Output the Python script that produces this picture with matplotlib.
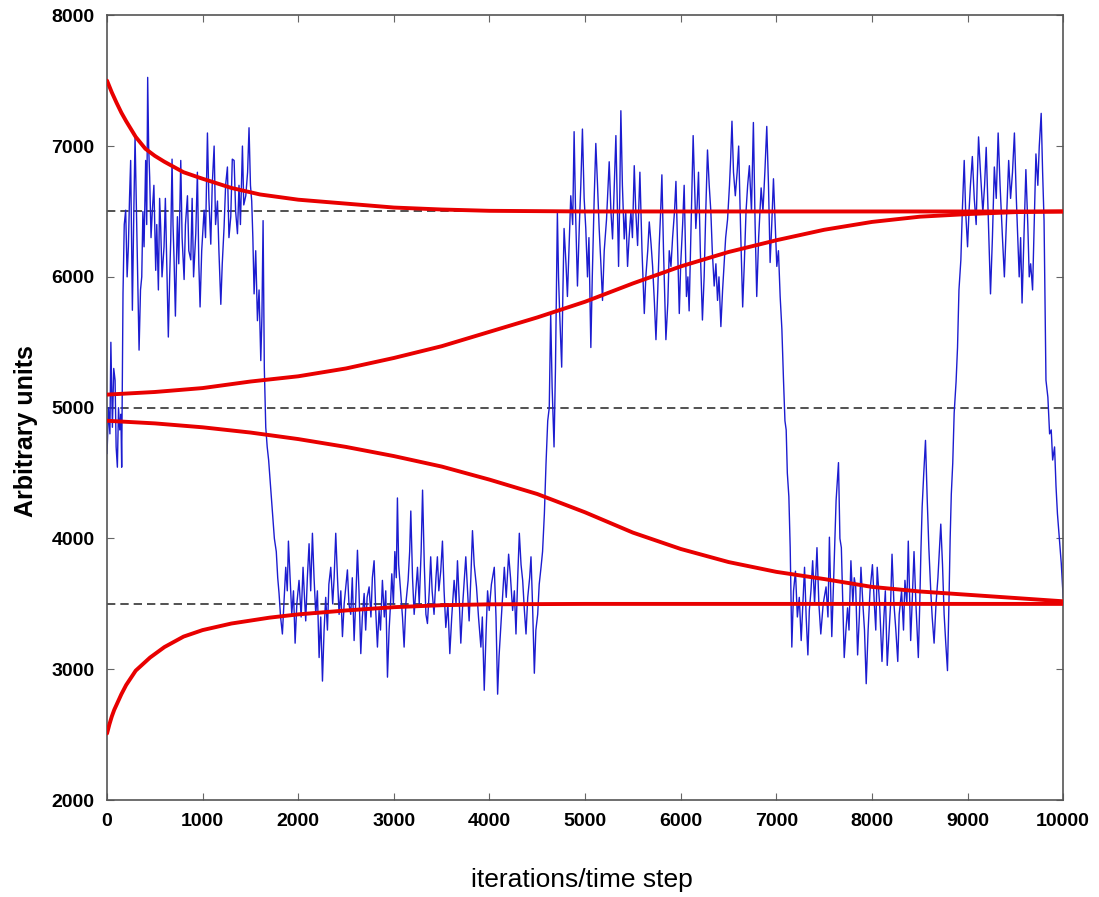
import matplotlib
matplotlib.use("Agg")
import matplotlib.pyplot as plt
import numpy as np

# blue trace as (iteration, value) pairs
trace_start = [(0, 4650), (15, 5000), (30, 4800), (40, 5500), (56, 4850), (70, 5300), (84, 5210),
               (95, 4700), (108, 4545), (120, 5000), (133, 4830), (145, 4950), (153, 4545), (160, 5200),
               (167, 5875)]
trace_high1 = [(180, 6400), (195, 6510), (210, 6000), (223, 6230), (235, 6600), (247, 6890), (265, 5745),
               (280, 6500), (293, 7070), (305, 6600), (317, 6130), (335, 5440), (350, 5900), (363, 6000),
               (375, 6500), (387, 6230), (404, 6890), (415, 6400), (425, 7525), (435, 7000), (446, 6760),
               (460, 6300), (474, 6510), (490, 6700), (509, 6050), (520, 6400), (537, 5900), (550, 6600),
               (561, 6380), (575, 6000), (596, 6230), (610, 6600), (625, 6100), (641, 5540), (655, 6000),
               (666, 6280), (680, 6900), (690, 6400), (701, 6130), (715, 5700), (736, 6460), (750, 6100),
               (771, 6890), (785, 6300), (806, 5980), (820, 6400), (841, 6620), (855, 6200), (876, 6130),
               (890, 6600), (905, 6000), (928, 6330), (945, 6800), (960, 6100), (973, 5770), (990, 6200),
               (1015, 6510), (1030, 6300), (1050, 7100), (1065, 6600), (1085, 6250), (1100, 6700),
               (1120, 7000), (1135, 6400), (1155, 6580), (1170, 6200), (1190, 5790), (1205, 6100),
               (1224, 6380), (1240, 6700), (1259, 6840), (1275, 6300), (1294, 6460), (1310, 6900),
               (1329, 6890), (1345, 6500), (1364, 6330), (1380, 6700), (1395, 6400), (1416, 7000),
               (1430, 6550), (1451, 6620), (1470, 6800), (1485, 7140), (1500, 6700), (1513, 6580),
               (1525, 6300), (1538, 5870), (1555, 6200), (1573, 5665), (1590, 5900), (1608, 5360),
               (1620, 5700), (1632, 6430), (1645, 5300), (1660, 4850)]
trace_drop1 = [(1675, 4700), (1690, 4600), (1710, 4400), (1730, 4200), (1750, 4000), (1770, 3900),
               (1785, 3700), (1799, 3580)]
trace_low1 = [(1815, 3400), (1834, 3270), (1850, 3500), (1869, 3780), (1885, 3600), (1897, 3980),
              (1915, 3700), (1932, 3420), (1950, 3600), (1967, 3200), (1985, 3500), (2008, 3680),
              (2030, 3400), (2050, 3780), (2065, 3550), (2078, 3370), (2095, 3700), (2113, 3960),
              (2130, 3600), (2148, 4040), (2165, 3700), (2183, 3420), (2200, 3600), (2218, 3090),
              (2235, 3400), (2253, 2910), (2270, 3300), (2287, 3550), (2305, 3300), (2320, 3650),
              (2340, 3780), (2360, 3500), (2375, 3700), (2392, 4040), (2410, 3700), (2427, 3420),
              (2445, 3600), (2462, 3250), (2480, 3500), (2500, 3650), (2514, 3760), (2530, 3500),
              (2549, 3420), (2565, 3700), (2584, 3220), (2600, 3500), (2619, 3910), (2635, 3600),
              (2654, 3120), (2670, 3400), (2689, 3580), (2705, 3300), (2720, 3550), (2741, 3630),
              (2760, 3400), (2775, 3700), (2793, 3830), (2810, 3450), (2828, 3170), (2845, 3450),
              (2860, 3300), (2880, 3680), (2900, 3400), (2915, 3600), (2933, 2940), (2950, 3300),
              (2965, 3500), (2978, 3730), (2995, 3500), (3010, 3900), (3025, 3700), (3037, 4310),
              (3050, 3800), (3072, 3580), (3090, 3400), (3107, 3170), (3125, 3500), (3149, 3680),
              (3165, 3900), (3177, 4210), (3195, 3700), (3212, 3420), (3230, 3600), (3247, 3780),
              (3265, 3500), (3285, 3900), (3300, 4370), (3318, 3800), (3335, 3420), (3351, 3350),
              (3370, 3600), (3385, 3860), (3400, 3600), (3420, 3420), (3440, 3700), (3455, 3860),
              (3470, 3600), (3490, 3750), (3508, 3980), (3525, 3600), (3543, 3320), (3565, 3500),
              (3585, 3120), (3605, 3400), (3630, 3680), (3650, 3500), (3665, 3830), (3685, 3500),
              (3700, 3200), (3720, 3500), (3752, 3860), (3770, 3600), (3787, 3370), (3805, 3700),
              (3822, 4060), (3840, 3800), (3864, 3630), (3885, 3400), (3910, 3170), (3925, 3400),
              (3945, 2840), (3965, 3300), (3980, 3600), (3997, 3450), (4020, 3650), (4050, 3780),
              (4068, 3400), (4085, 2810), (4100, 3100), (4120, 3350), (4140, 3600), (4155, 3780),
              (4175, 3550), (4200, 3880), (4220, 3700), (4242, 3450), (4260, 3600), (4277, 3270),
              (4295, 3700), (4312, 4040), (4330, 3800), (4347, 3680), (4365, 3450), (4382, 3270),
              (4400, 3550), (4420, 3700), (4434, 3860), (4450, 3500), (4469, 2970), (4485, 3300),
              (4504, 3420), (4520, 3650), (4539, 3780), (4555, 3900), (4574, 4190), (4591, 4570),
              (4609, 4900)]
trace_rise1 = [(4625, 5000), (4640, 5720), (4655, 5160), (4675, 4700), (4690, 5300), (4700, 5900),
               (4710, 6490), (4722, 6000), (4734, 5720), (4755, 5310), (4768, 5900), (4780, 6370)]
trace_high2 = [(4800, 6100), (4815, 5850), (4835, 6300), (4850, 6620), (4870, 6400), (4885, 7110),
               (4900, 6500), (4920, 5930), (4940, 6400), (4955, 6700), (4972, 7130), (4990, 6600),
               (5007, 6370), (5025, 6000), (5040, 6300), (5060, 5460), (5075, 6000), (5095, 6600),
               (5112, 7020), (5130, 6700), (5147, 6370), (5165, 6100), (5182, 5820), (5200, 6200),
               (5224, 6440), (5240, 6700), (5252, 6880), (5270, 6500), (5287, 6290), (5305, 6700),
               (5322, 7080), (5335, 6600), (5350, 6080), (5362, 6600), (5374, 7270), (5390, 6700),
               (5409, 6290), (5425, 6500), (5444, 6080), (5460, 6300), (5479, 6500), (5495, 6300),
               (5514, 6850), (5530, 6500), (5549, 6240), (5560, 6500), (5573, 6800), (5595, 6200),
               (5619, 5720), (5635, 6000), (5655, 6200), (5671, 6420), (5690, 6250), (5706, 6080),
               (5725, 5800), (5741, 5520), (5760, 5900), (5775, 6240), (5790, 6500), (5803, 6780),
               (5820, 6200), (5845, 5520), (5865, 5800), (5880, 6200), (5898, 6080), (5915, 6300),
               (5935, 6500), (5950, 6730), (5968, 6200), (5985, 5720), (6000, 6100), (6020, 6400),
               (6036, 6700), (6060, 5850), (6075, 6000), (6088, 5740), (6105, 6300), (6118, 6700),
               (6130, 7080), (6145, 6700), (6158, 6370), (6172, 6550), (6186, 6800), (6205, 6200),
               (6227, 5670), (6245, 6000), (6262, 6500), (6280, 6970), (6298, 6700), (6315, 6500),
               (6330, 6200), (6350, 5930), (6368, 6100), (6385, 5820), (6400, 6000), (6420, 5620),
               (6438, 5900), (6455, 6110), (6470, 6300), (6490, 6440), (6510, 6700), (6522, 6900),
               (6536, 7190), (6552, 6800), (6571, 6620), (6590, 6800), (6606, 7000), (6625, 6400),
               (6648, 5770), (6665, 6100), (6683, 6500), (6700, 6700), (6718, 6850), (6740, 6500),
               (6760, 7180), (6778, 6400), (6795, 5850), (6815, 6300), (6841, 6680), (6860, 6500),
               (6880, 6800), (6900, 7150), (6918, 6700), (6935, 6110), (6952, 6400), (6970, 6750),
               (6988, 6400), (7005, 6080), (7022, 6200), (7040, 5850), (7058, 5600)]
trace_drop2 = [(7075, 5210), (7090, 4900), (7103, 4830), (7115, 4500), (7131, 4320), (7145, 3930),
               (7162, 3170)]
trace_low2 = [(7180, 3600), (7200, 3750), (7220, 3400), (7240, 3550), (7260, 3220), (7278, 3500),
              (7295, 3780), (7312, 3400), (7330, 3110), (7345, 3450), (7362, 3600), (7380, 3830),
              (7400, 3500), (7425, 3930), (7445, 3500), (7465, 3270), (7490, 3500), (7520, 3630),
              (7540, 3400), (7555, 4010), (7580, 3250), (7600, 3700), (7625, 4290), (7650, 4580),
              (7665, 4000), (7680, 3930), (7695, 3500), (7710, 3090), (7728, 3300), (7745, 3470),
              (7760, 3300), (7780, 3830), (7800, 3500), (7815, 3700), (7830, 3630), (7850, 3110),
              (7868, 3400), (7885, 3780), (7905, 3500), (7922, 3300), (7940, 2890), (7960, 3300),
              (7980, 3600), (8005, 3800), (8025, 3500), (8040, 3300), (8055, 3780), (8080, 3500),
              (8105, 3060), (8125, 3400), (8140, 3600), (8160, 3030), (8180, 3300), (8195, 3500),
              (8210, 3880), (8230, 3500), (8250, 3300), (8270, 3060), (8285, 3420), (8310, 3600),
              (8330, 3300), (8345, 3680), (8365, 3500), (8380, 3980), (8392, 3600), (8405, 3220),
              (8420, 3500), (8440, 3900), (8460, 3500), (8485, 3090), (8500, 3500), (8512, 3900),
              (8525, 4240), (8542, 4500), (8560, 4750), (8578, 4300), (8595, 3930), (8615, 3600),
              (8630, 3400), (8650, 3200), (8670, 3500), (8690, 3700), (8705, 3900), (8720, 4110),
              (8738, 3800), (8755, 3420), (8772, 3200), (8790, 2990), (8805, 3500), (8818, 4000),
              (8830, 4340)]
trace_rise2 = [(8845, 4575), (8860, 4960), (8880, 5200), (8895, 5460), (8910, 5900), (8930, 6130),
               (8945, 6500)]
trace_high3 = [(8965, 6890), (8980, 6500), (9000, 6230), (9015, 6500), (9030, 6700), (9050, 6920),
               (9070, 6600), (9090, 6400), (9100, 6700), (9115, 7070), (9135, 6800), (9160, 6490),
               (9178, 6700), (9195, 6990), (9215, 6500), (9240, 5870), (9260, 6300), (9280, 6840),
               (9300, 6600), (9320, 7100), (9340, 6700), (9365, 6300), (9385, 6000), (9405, 6400),
               (9430, 6890), (9450, 6600), (9470, 6800), (9490, 7100), (9510, 6600), (9525, 6300),
               (9540, 6000), (9555, 6300), (9570, 5800), (9590, 6300), (9610, 6820), (9630, 6400),
               (9645, 6000), (9660, 6100), (9680, 5900), (9700, 6500), (9715, 6940), (9735, 6700),
               (9750, 7000), (9770, 7250), (9785, 6800), (9800, 6430)]
trace_end = [(9810, 5800), (9820, 5210), (9840, 5080), (9858, 4800), (9875, 4830), (9890, 4600),
             (9910, 4700), (9925, 4400), (9940, 4190), (9960, 4000), (9980, 3810), (10000, 3550)]

# red estimate curves
top_x = [0, 50, 100, 150, 200, 300, 400, 500, 600, 800, 1000, 1300, 1600, 2000, 2500, 3000, 3500, 4000, 5000, 10000]
top_y = [7500, 7410, 7330, 7255, 7190, 7070, 6980, 6925, 6880, 6800, 6750, 6680, 6630, 6590, 6560, 6530, 6515, 6505, 6500, 6500]
bot_x = [0, 25, 50, 75, 100, 150, 200, 300, 450, 600, 800, 1000, 1300, 1700, 2000, 2500, 3000, 3500, 4000, 5000, 10000]
bot_y = [2510, 2580, 2640, 2690, 2730, 2810, 2880, 2990, 3090, 3170, 3250, 3300, 3350, 3395, 3420, 3450, 3475, 3490, 3497, 3500, 3500]
rise_x = list(range(0, 10001, 500))
rise_y = [5100, 5120, 5150, 5200, 5240, 5300, 5380, 5470, 5580, 5690, 5810,
          5950, 6080, 6190, 6280, 6360, 6420, 6460, 6480, 6495, 6500]
fall_x = list(range(0, 10001, 500))
fall_y = [4900, 4880, 4850, 4810, 4760, 4700, 4630, 4550, 4450, 4340, 4200,
          4045, 3920, 3820, 3745, 3690, 3630, 3595, 3570, 3545, 3520]

levels = [6500, 5000, 3500]

trace = (trace_start + trace_high1 + trace_drop1 + trace_low1 + trace_rise1 + trace_high2
         + trace_drop2 + trace_low2 + trace_rise2 + trace_high3 + trace_end)
tx = np.array([p[0] for p in trace])
ty = np.array([p[1] for p in trace])

fig = plt.figure(figsize=(10.99, 8.97), dpi=100)
ax = fig.add_axes([0.0974, 0.108, 0.8700, 0.875])

for lv in levels:
    ax.axhline(lv, color='#333333', lw=1.2, dashes=(5, 3), zorder=1)

ax.plot(tx, ty, color='#1c1cd0', lw=1.0, zorder=2)

for xs, ys in [(top_x, top_y), (bot_x, bot_y), (rise_x, rise_y), (fall_x, fall_y)]:
    ax.plot(xs, ys, color='#e80000', lw=2.8, solid_capstyle='round',
            solid_joinstyle='round', zorder=3)

ax.set_xlim(0, 10000)
ax.set_ylim(2000, 8000)
ax.set_xticks(range(0, 10001, 1000))
ax.set_yticks(range(2000, 8001, 1000))
ax.tick_params(direction='in', length=5, top=True, right=True, color='#666666',
               labelsize=14, pad=9)
for lab in ax.get_xticklabels() + ax.get_yticklabels():
    lab.set_fontweight('bold')
    lab.set_family(['Liberation Sans', 'DejaVu Sans'])
for sp in ax.spines.values():
    sp.set_color('#555555')
    sp.set_linewidth(1.2)

ax.set_xlabel('iterations/time step', fontsize=19, family=['Liberation Sans', 'DejaVu Sans'])
ax.xaxis.set_label_coords(0.497, -0.086)
ax.set_ylabel('Arbitrary units', fontsize=18, fontweight='bold',
              family=['Liberation Sans Narrow', 'Liberation Sans', 'DejaVu Sans'])
ax.yaxis.set_label_coords(-0.072, 0.47)

fig.savefig('out.png', dpi=100)
